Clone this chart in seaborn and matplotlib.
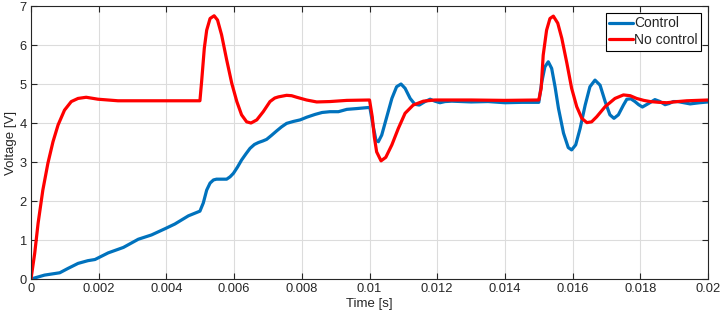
import seaborn as sns
import pandas as pd
import matplotlib.pyplot as plt
from matplotlib.ticker import FormatStrFormatter

# values (time in ms, voltage in V)
t_ctrl = [0, 0.2, 0.40, 0.85, 1.09, 1.39, 1.68, 1.89, 2.28, 2.73, 3.17, 3.56, 3.96, 4.25,
          4.65, 4.99, 5.09, 5.19, 5.29, 5.39, 5.48, 5.58, 5.78, 5.88, 5.98, 6.10, 6.22,
          6.35, 6.47, 6.60, 6.72, 6.85, 6.96, 7.10, 7.26, 7.40, 7.55, 7.75, 7.95, 8.15,
          8.39, 8.60, 8.83, 9.08, 9.33, 9.62, 9.87, 10.01, 10.06, 10.11, 10.19, 10.26,
          10.36, 10.51, 10.66, 10.80, 10.93, 11.05, 11.20, 11.34, 11.47, 11.64, 11.79,
          11.93, 12.08, 12.23, 12.43, 13.0, 13.5, 14.0, 14.5, 15.0, 15.09, 15.18, 15.28,
          15.38, 15.48, 15.58, 15.73, 15.87, 15.97, 16.09, 16.22, 16.37, 16.51, 16.66,
          16.81, 16.96, 17.10, 17.22, 17.35, 17.50, 17.60, 17.72, 17.84, 17.95, 18.06,
          18.24, 18.43, 18.58, 18.73, 18.85, 18.97, 19.10, 19.47, 19.75, 20.0]
v_ctrl = [0, 0.05, 0.10, 0.16, 0.27, 0.40, 0.47, 0.50, 0.67, 0.81, 1.02, 1.13, 1.29, 1.41,
          1.62, 1.74, 1.95, 2.28, 2.46, 2.54, 2.56, 2.56, 2.56, 2.62, 2.71, 2.87, 3.05,
          3.21, 3.35, 3.45, 3.50, 3.54, 3.58, 3.68, 3.80, 3.90, 3.99, 4.04, 4.08, 4.15,
          4.22, 4.27, 4.29, 4.29, 4.35, 4.37, 4.39, 4.40, 4.15, 3.91, 3.56, 3.52,
          3.69, 4.16, 4.63, 4.93, 5.00, 4.89, 4.63, 4.48, 4.46, 4.55, 4.61,
          4.56, 4.52, 4.55, 4.56, 4.54, 4.55, 4.52, 4.53, 4.53, 5.06, 5.44, 5.57,
          5.40, 4.93, 4.38, 3.74, 3.37, 3.31, 3.44, 3.86, 4.46, 4.93, 5.10,
          4.97, 4.55, 4.21, 4.12, 4.21, 4.46, 4.61, 4.62, 4.55, 4.47, 4.41,
          4.50, 4.60, 4.55, 4.47, 4.50, 4.55, 4.55, 4.49, 4.52, 4.54]

t_noctrl = [0, 0.05, 0.11, 0.21, 0.35, 0.50, 0.65, 0.80, 0.99, 1.19, 1.39, 1.63, 1.98, 2.57,
            3.5, 4.5, 4.99, 5.04, 5.12, 5.19, 5.29, 5.41, 5.51, 5.63, 5.78, 5.93, 6.08,
            6.22, 6.37, 6.50, 6.67, 6.86, 7.06, 7.20, 7.31, 7.55, 7.70, 7.85, 8.14, 8.44,
            8.83, 9.33, 10.0, 10.08, 10.14, 10.21, 10.34, 10.48, 10.66, 10.85, 11.05, 11.29,
            11.59, 11.93, 12.5, 13.0, 14.0, 15.0, 15.07, 15.13, 15.23, 15.33, 15.43, 15.56,
            15.68, 15.83, 15.97, 16.12, 16.27, 16.42, 16.56, 16.71, 16.96, 17.25, 17.50,
            17.70, 17.89, 18.10, 18.29, 18.55, 18.78, 19.10, 19.37, 20.0]
v_noctrl = [0, 0.30, 0.66, 1.43, 2.28, 2.97, 3.52, 3.95, 4.33, 4.55, 4.63, 4.66, 4.61, 4.57,
            4.57, 4.57, 4.57, 5.06, 5.92, 6.38, 6.68, 6.75, 6.64, 6.26, 5.62, 5.02, 4.55,
            4.21, 4.03, 4.00, 4.08, 4.29, 4.55, 4.64, 4.67, 4.71, 4.70, 4.66, 4.59, 4.54,
            4.55, 4.58, 4.59, 4.16, 3.65, 3.26, 3.03, 3.12, 3.44, 3.86, 4.25, 4.46,
            4.56, 4.59, 4.59, 4.59, 4.58, 4.59, 4.89, 5.74, 6.38, 6.68, 6.74, 6.56,
            6.17, 5.53, 4.89, 4.42, 4.12, 4.01, 4.03, 4.16, 4.42, 4.63, 4.72,
            4.70, 4.63, 4.58, 4.55, 4.53, 4.52, 4.55, 4.57, 4.59]

df1 = pd.DataFrame({"Time": [t / 1000 for t in t_ctrl], "Voltage": v_ctrl})
df2 = pd.DataFrame({"Time": [t / 1000 for t in t_noctrl], "Voltage": v_noctrl})

sns.set_style("whitegrid")
plt.rcParams['font.family'] = ['Liberation Sans', 'DejaVu Sans']

fig = plt.figure(figsize=(7.24, 3.23), dpi=100)
ax = fig.add_axes([0.0428, 0.1362, 0.9352, 0.8452])

sns.lineplot(data=df1, x="Time", y="Voltage", color="#0072BD", linewidth=2.3, label="Control", ax=ax)
sns.lineplot(data=df2, x="Time", y="Voltage", color="#FF0000", linewidth=2.3, label="No control", ax=ax)

ax.set_xlim(0, 0.02)
ax.set_ylim(0, 7)
ax.set_xticks([i * 0.002 for i in range(11)])
ax.set_yticks(range(8))
ax.xaxis.set_major_formatter(FormatStrFormatter('%g'))
ax.set_xlabel("Time [s]", fontsize=9.5, labelpad=2)
ax.set_ylabel("Voltage [V]", fontsize=9.5, labelpad=2)
ax.tick_params(direction="in", length=4, width=0.8, colors="#262626", labelsize=9.3,
               top=True, right=True, bottom=True, left=True, pad=3)
ax.grid(True, color="#DCDCDC", linewidth=0.8)
for s in ax.spines.values():
    s.set_color("#262626")
    s.set_linewidth(0.8)

leg = ax.legend(loc="upper right", fontsize=10, frameon=True, fancybox=False,
                handlelength=1.7, handletextpad=0.1, borderpad=0.25, labelspacing=0.2,
                borderaxespad=0.5, edgecolor="black")
leg.get_frame().set_linewidth(0.8)
leg.get_frame().set_alpha(1)

plt.savefig("out.png", dpi=100)
